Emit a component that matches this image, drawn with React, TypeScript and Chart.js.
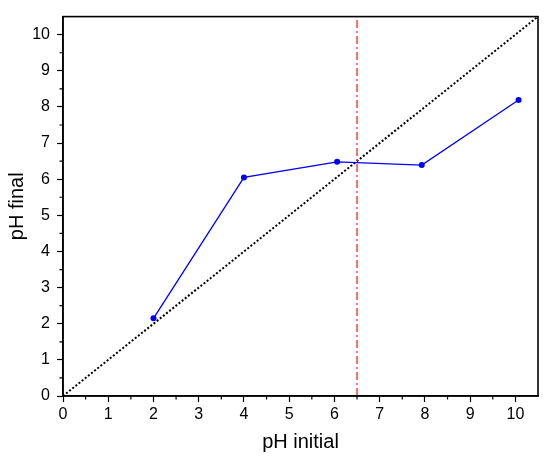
import React, { useEffect, useRef } from "react";
import { Chart, registerables } from "chart.js";

Chart.register(...registerables);

const pHInitial = [2, 4, 6.06, 7.93, 10.07];
const pHFinal = [2.15, 6.05, 6.48, 6.39, 8.19];
const identityX = [0, 10.5];
const identityY = [0, 10.5];
const cutoffX = [6.5, 6.5];
const cutoffY = [0, 10.5];
const majorTicks = [0, 1, 2, 3, 4, 5, 6, 7, 8, 9, 10];
const minorTicks = [0.5, 1.5, 2.5, 3.5, 4.5, 5.5, 6.5, 7.5, 8.5, 9.5];
const axisMin = 0;
const axisMax = 10.5;

const FONT = "'Liberation Sans', Arial, sans-serif";

const framePlugin = {
  id: "frameAndMinor",
  afterDraw(chart: any) {
    const { ctx, chartArea } = chart;
    const xs = chart.scales.x;
    const ys = chart.scales.y;
    ctx.save();
    ctx.strokeStyle = "#000";
    ctx.lineWidth = 1.2;
    ctx.beginPath();
    for (const v of minorTicks) {
      const px = xs.getPixelForValue(v);
      ctx.moveTo(px, chartArea.bottom);
      ctx.lineTo(px, chartArea.bottom + 3.5);
      const py = ys.getPixelForValue(v);
      ctx.moveTo(chartArea.left, py);
      ctx.lineTo(chartArea.left - 3.5, py);
    }
    ctx.stroke();
    ctx.lineWidth = 1.6;
    ctx.strokeRect(chartArea.left, chartArea.top, chartArea.right - chartArea.left, chartArea.bottom - chartArea.top);
    ctx.restore();
  },
};

export default function App() {
  const ref = useRef<HTMLCanvasElement>(null);
  useEffect(() => {
    if (!ref.current) return;
    const toPts = (xs: number[], ys: number[]) => xs.map((x, i) => ({ x, y: ys[i] }));
    const chart = new Chart(ref.current, {
      type: "scatter",
      data: {
        datasets: [
          {
            data: toPts(pHInitial, pHFinal),
            showLine: true,
            borderColor: "#0000ff",
            backgroundColor: "#0000ff",
            borderWidth: 1.3,
            pointRadius: 3,
            pointBorderWidth: 0,
          },
          {
            data: toPts(cutoffX, cutoffY),
            showLine: true,
            borderColor: "#ff2222",
            borderWidth: 1.3,
            borderDash: [8, 3, 2, 3],
            pointRadius: 0,
          },
          {
            data: toPts(identityX, identityY),
            showLine: true,
            borderColor: "#000000",
            borderWidth: 2,
            borderDash: [2, 2],
            pointRadius: 0,
          },
        ],
      },
      options: {
        animation: false,
        responsive: false,
        layout: { padding: { left: 0, right: 12, top: 13, bottom: 0 } },
        plugins: { legend: { display: false }, tooltip: { enabled: false } },
        scales: {
          x: {
            type: "linear",
            min: axisMin,
            max: axisMax,
            afterBuildTicks: (s: any) => {
              s.ticks = majorTicks.map((v) => ({ value: v }));
            },
            afterFit: (s: any) => {
              s.height = 68;
            },
            ticks: {
              autoSkip: false,
              maxRotation: 0,
              padding: 3,
              color: "#000",
              font: { family: FONT, size: 16 },
              callback: (v: any) => String(v),
            },
            grid: { drawOnChartArea: false, drawTicks: true, tickLength: 6, tickColor: "#000", tickWidth: 1.2 },
            border: { display: true, color: "#000", width: 1.6 },
            title: {
              display: true,
              text: "pH initial",
              color: "#000",
              font: { family: FONT, size: 20 },
              padding: { top: 0, bottom: 10 },
            },
          },
          y: {
            type: "linear",
            min: axisMin,
            max: axisMax,
            afterBuildTicks: (s: any) => {
              s.ticks = majorTicks.map((v) => ({ value: v }));
            },
            afterFit: (s: any) => {
              s.width = 63;
            },
            ticks: {
              autoSkip: false,
              padding: 7,
              color: "#000",
              font: { family: FONT, size: 16 },
              callback: (v: any) => String(v),
            },
            grid: { drawOnChartArea: false, drawTicks: true, tickLength: 6, tickColor: "#000", tickWidth: 1.2 },
            border: { display: true, color: "#000", width: 1.6 },
            title: {
              display: true,
              text: "pH final",
              color: "#000",
              font: { family: FONT, size: 20 },
              padding: { top: 5, bottom: 0 },
            },
          },
        },
      },
      plugins: [framePlugin],
    } as any);
    return () => chart.destroy();
  }, []);
  return (
    <div style={{ position: "absolute", left: 0, top: 0, width: 550, height: 464, background: "#fff" }}>
      <canvas ref={ref} width={550} height={464} />
    </div>
  );
}
